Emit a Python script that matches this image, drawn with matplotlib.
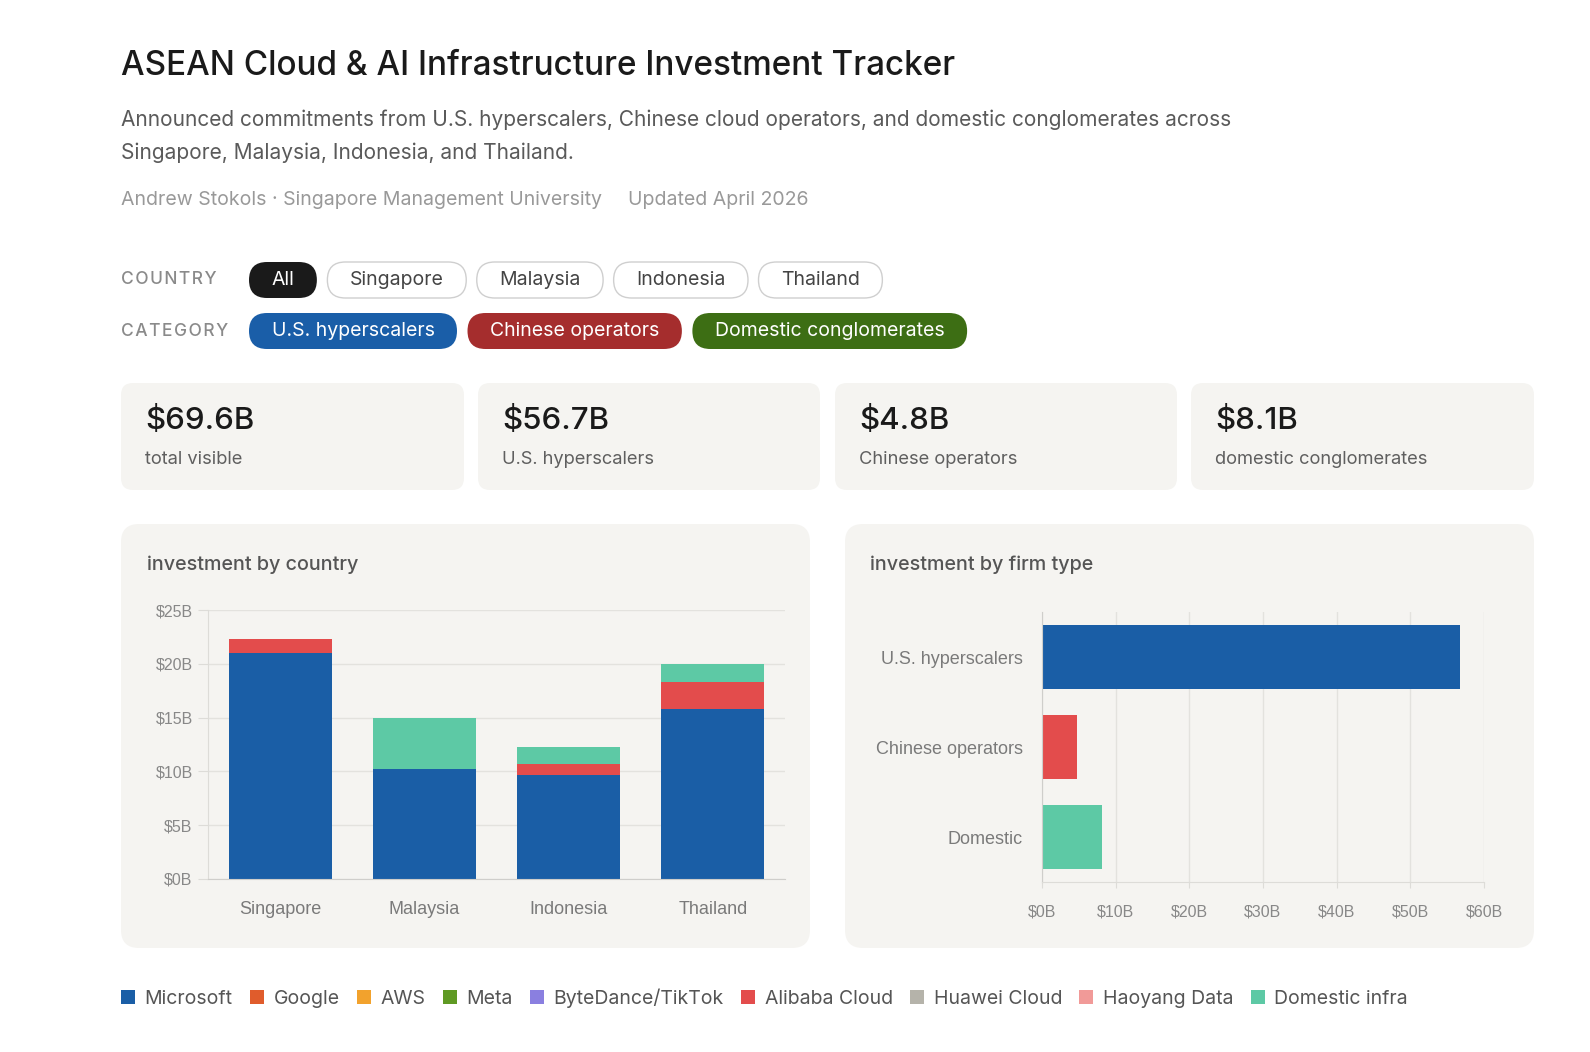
import numpy as np
import matplotlib
matplotlib.use('Agg')
from matplotlib import pyplot as plt
from matplotlib.patches import FancyBboxPatch, Patch
from matplotlib.ticker import FuncFormatter

W, H = 1590, 1052

# ---- data, $ billions ----
countries = ['Singapore', 'Malaysia', 'Indonesia', 'Thailand']
us_hyperscalers = [21.0, 10.2, 9.7, 15.8]
chinese_operators = [1.3, 0.0, 1.0, 2.5]
domestic_conglomerates = [0.0, 4.8, 1.6, 1.7]

firm_types = ['U.S. hyperscalers', 'Chinese operators', 'Domestic']

country_filters = ['All', 'Singapore', 'Malaysia', 'Indonesia', 'Thailand']
category_filters = ['U.S. hyperscalers', 'Chinese operators', 'Domestic conglomerates']
stat_labels = ['total visible', 'U.S. hyperscalers', 'Chinese operators', 'domestic conglomerates']

legend_firms = ['Microsoft', 'Google', 'AWS', 'Meta', 'ByteDance/TikTok',
                'Alibaba Cloud', 'Huawei Cloud', 'Haoyang Data', 'Domestic infra']
legend_colors = ['#1a5ea6', '#e05c2c', '#f2a22d', '#5f9a24', '#8a7fe0',
                 '#e34c4c', '#b5b3aa', '#f19a98', '#5dc9a5']

BLUE, RED, TEAL = '#1a5ea6', '#e34c4c', '#5dc9a5'
CHIP = ['#1a5ea8', '#a52d2d', '#3d6e14']
CARD = '#f5f4f1'
GRID = '#e3e2de'
SANS = ['Inter', 'DejaVu Sans']
CHART = ['Liberation Sans', 'DejaVu Sans']

us = np.array(us_hyperscalers)
ch = np.array(chinese_operators)
dom = np.array(domestic_conglomerates)
firm_totals = [us.sum(), ch.sum(), dom.sum()]

fig = plt.figure(figsize=(W / 100, H / 100), dpi=100)
fig.patch.set_facecolor('white')
bg = fig.add_axes([0, 0, 1, 1])
bg.set_xlim(0, W)
bg.set_ylim(H, 0)
bg.axis('off')
renderer = fig.canvas.get_renderer()


def rbox(x0, y0, x1, y1, r, fc, ec='none', lw=0):
    bg.add_patch(FancyBboxPatch((x0, y0), x1 - x0, y1 - y0,
                                boxstyle=f'round,pad=0,rounding_size={r}',
                                fc=fc, ec=ec, lw=lw))


def put(x, y, s, size, color, target_w=None, **kw):
    t = bg.text(x, y, s, fontsize=size, color=color, va='center', family=SANS, **kw)
    if target_w:
        w = t.get_window_extent(renderer).width
        t.set_fontsize(size * target_w / w)
    return t


# header
t = put(121, 66, 'ASEAN Cloud & AI Infrastructure Investment Tracker', 24, '#1a1a1a',
        target_w=833, weight='medium')
t = put(121, 120, 'Announced commitments from U.S. hyperscalers, Chinese cloud operators, '
        'and domestic conglomerates across', 15, '#5a5a5a', target_w=1113)
sub_size = t.get_fontsize()
put(121, 153, 'Singapore, Malaysia, Indonesia, and Thailand.', sub_size, '#5a5a5a')
t = put(121, 200, 'Andrew Stokols \u00b7 Singapore Management University', 13, '#999999',
        target_w=480)
put(628, 200, 'Updated April 2026', t.get_fontsize(), '#999999')

# filter rows
t = put(121, 280, '\u200a'.join('COUNTRY'), 12, '#8a8a8a', target_w=96, weight='medium')
put(121, 331, '\u200a'.join('CATEGORY'), t.get_fontsize(), '#8a8a8a', weight='medium')

probe = put(0, 0, 'Singapore', 14, 'none', target_w=94)
pill_size = probe.get_fontsize()
probe.remove()


def pill_row(labels, y, fills, text_colors, edges):
    x = 249
    for lab, fc, tc, ec in zip(labels, fills, text_colors, edges):
        t = put(x, y, lab, pill_size, tc, ha='center')
        w = t.get_window_extent(renderer).width
        pw = w + 45
        rbox(x, y - 18, x + pw, y + 18, 18, fc, ec, 1 if ec != 'none' else 0)
        t.set_position((x + pw / 2, y))
        t.set_zorder(3)
        x += pw + 10.5


pill_row(country_filters, 280,
         ['#1a1a1a'] + ['white'] * 4, ['white'] + ['#444444'] * 4,
         ['none'] + ['#cfcfcf'] * 4)
pill_row(category_filters, 331, CHIP, ['white'] * 3, ['none'] * 3)

# stat cards
stat_values = [sum(firm_totals)] + firm_totals
card_x = [(121, 464), (478, 820), (835, 1177), (1191, 1534)]
num_size = None
for (x0, x1), v, lab in zip(card_x, stat_values, stat_labels):
    rbox(x0, 383, x1, 490, 12, CARD)
    if num_size is None:
        t = put(x0 + 24, 421, f'${v:.1f}B', 23, '#1a1a1a', target_w=109, weight='medium')
        num_size = t.get_fontsize()
        t = put(x0 + 24, 459, lab, 13, '#5f5f5f', target_w=98)
        lab_size = t.get_fontsize()
    else:
        put(x0 + 24, 421, f'${v:.1f}B', num_size, '#1a1a1a', weight='medium')
        put(x0 + 24, 459, lab, lab_size, '#5f5f5f')

# chart cards
rbox(121, 524, 810, 948, 18, CARD)
rbox(845, 524, 1534, 948, 18, CARD)
t = put(147, 565, 'investment by country', 14, '#555555', target_w=211, weight='medium')
put(870, 565, 'investment by firm type', t.get_fontsize(), '#555555', weight='medium')

fmt = FuncFormatter(lambda v, p: f'${v:.0f}B')

# left: stacked bars by country
ax1 = fig.add_axes([208 / W, 1 - 879 / H, (785 - 208) / W, (879 - 610) / H])
ax1.set_facecolor('none')
x = np.arange(len(countries))
bw = 0.715
ax1.bar(x, us, bw, color=BLUE, zorder=2)
ax1.bar(x, ch, bw, bottom=us, color=RED, zorder=2)
ax1.bar(x, dom, bw, bottom=us + ch, color=TEAL, zorder=2)
ax1.set_xlim(-0.5, len(countries) - 0.5)
ax1.set_ylim(0, 25)
ax1.set_yticks(np.arange(0, 26, 5))
ax1.yaxis.set_major_formatter(fmt)
ax1.set_xticks(x)
ax1.set_xticklabels(countries)
ax1.grid(axis='y', color=GRID, lw=1, zorder=0)
for s in ['top', 'right']:
    ax1.spines[s].set_visible(False)
ax1.spines['left'].set_color('#dddcd8')
ax1.spines['bottom'].set_color('#cfcecb')
ax1.tick_params(axis='y', length=7, color='#dddcd8', pad=4, labelsize=11.5, labelcolor='#888888')
ax1.tick_params(axis='x', length=0, pad=16, labelsize=13, labelcolor='#7a7a7a')
for lab in ax1.get_xticklabels() + ax1.get_yticklabels():
    lab.set_family(CHART)

# right: horizontal bars by firm type
ax2 = fig.add_axes([1042 / W, 1 - 882 / H, 442 / W, 270 / H])
ax2.set_facecolor('none')
y = np.arange(len(firm_types))
ax2.barh(y, firm_totals, 0.71, color=[BLUE, RED, TEAL], zorder=2)
ax2.set_ylim(len(firm_types) - 0.5, -0.5)
ax2.set_xlim(0, 60)
ax2.set_xticks(np.arange(0, 61, 10))
ax2.xaxis.set_major_formatter(fmt)
ax2.set_yticks(y)
ax2.set_yticklabels(firm_types)
ax2.grid(axis='x', color=GRID, lw=1, zorder=0)
for s in ['top', 'right']:
    ax2.spines[s].set_visible(False)
ax2.spines['left'].set_color('#cfcecb')
ax2.spines['bottom'].set_color('#dddcd8')
ax2.tick_params(axis='x', length=4, color='#dddcd8', pad=12, labelsize=11.5, labelcolor='#888888')
ax2.tick_params(axis='y', length=0, pad=14, labelsize=13, labelcolor='#7a7a7a')
for lab in ax2.get_xticklabels() + ax2.get_yticklabels():
    lab.set_family(CHART)

# legend
handles = [Patch(facecolor=c, edgecolor='none') for c in legend_colors]
fig.legend(handles, legend_firms, loc='center left', bbox_to_anchor=(121 / W, 1 - 998 / H),
           ncol=len(legend_firms), frameon=False, prop={'family': SANS, 'size': 14},
           labelcolor='#555555', handlelength=0.72, handleheight=0.72,
           handletextpad=0.5, columnspacing=0.88, borderpad=0, borderaxespad=0)

fig.savefig('out.png', dpi=100, facecolor='white')
